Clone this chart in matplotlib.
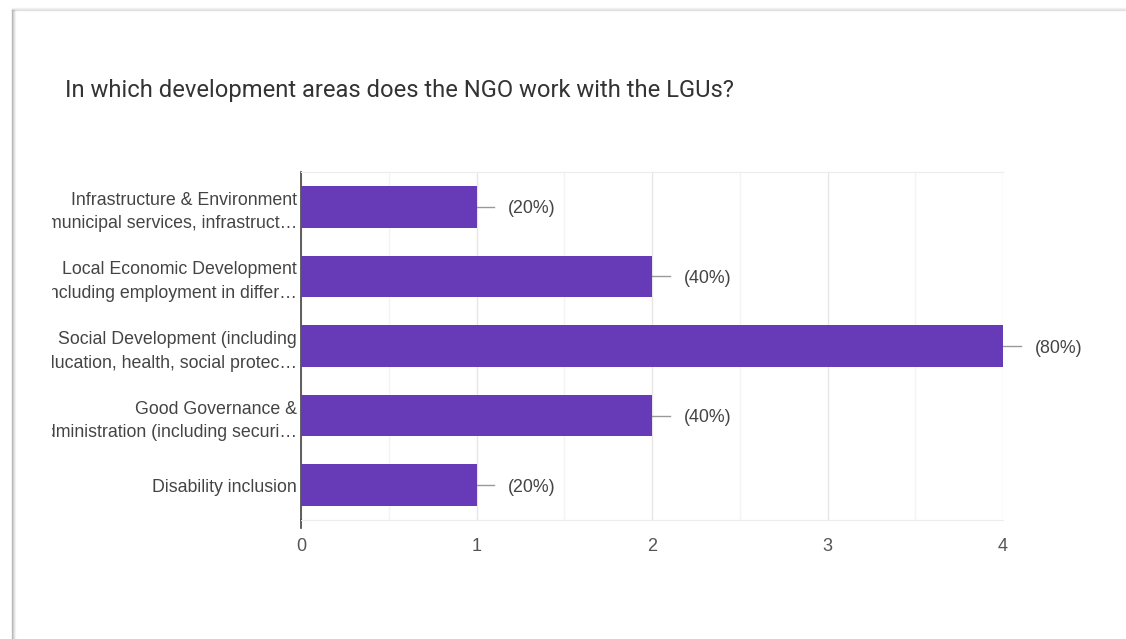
import matplotlib.pyplot as plt
from matplotlib.lines import Line2D
from matplotlib.patches import Rectangle

# data
categories = [
    "Infrastructure & Environment\n(municipal services, infrastruct\u2026",
    "Local Economic Development\n(including employment in differ\u2026",
    "Social Development (including\neducation, health, social protec\u2026",
    "Good Governance &\nAdministration (including securi\u2026",
    "Disability inclusion",
]
counts = [1, 2, 4, 2, 1]
percent_labels = ["(20%)", "(40%)", "(80%)", "(40%)", "(20%)"]
x_ticks = [0, 1, 2, 3, 4]

W, H = 1126, 639
fig = plt.figure(figsize=(W / 100, H / 100), dpi=100)
fig.patch.set_facecolor("white")

ax = fig.add_axes([301 / W, 1 - 520 / H, 702 / W, 348 / H])
ypos = list(range(len(categories)))
ax.barh(ypos, counts, height=0.6, color="#673ab7", zorder=3)

ax.set_xlim(0, 4)
ax.set_ylim(4.5, -0.5)
ax.set_xticks(x_ticks)
ax.set_xticks([0.5, 1.5, 2.5, 3.5], minor=True)
ax.grid(axis="x", which="major", color="#e6e6e6", lw=1, zorder=0)
ax.grid(axis="x", which="minor", color="#f3f3f3", lw=1, zorder=0)
ax.set_axisbelow(True)

ax.set_yticks(ypos)
ax.set_yticklabels(categories, fontsize=12.8, color="#444444",
                   family=["Liberation Sans", "DejaVu Sans"],
                   linespacing=1.5, multialignment="right")
ax.tick_params(axis="y", length=0, pad=3)
ax.tick_params(axis="x", which="both", length=0, pad=13, labelsize=13,
               labelcolor="#555555")
for lbl in ax.get_xticklabels():
    lbl.set_family(["Liberation Sans", "DejaVu Sans"])

for side in ["top", "bottom"]:
    ax.spines[side].set_color("#ececec")
ax.spines["right"].set_visible(False)
ax.spines["left"].set_color("#444444")
ax.spines["left"].set_linewidth(1.2)
ax.plot([0, 0], [4.5, 4.62], color="#444444", lw=1.2, clip_on=False)

# leader lines and percentage labels
for y, v, t in zip(ypos, counts, percent_labels):
    ax.plot([v, v + 0.1], [y, y], color="#999999", lw=1, zorder=2, clip_on=False)
    ax.text(v + 0.18, y + 0.03, t, va="center", ha="left", fontsize=12.8,
            color="#444444", family=["Liberation Sans", "DejaVu Sans"],
            clip_on=False)

# title
fig.text(65 / W, 1 - 90 / H, "In which development areas does the NGO work with the LGUs?",
         fontsize=17.1, color="#333333", va="center", ha="left",
         family=["Roboto", "DejaVu Sans"])

# card edges: cover clipped label text, then shadow lines
fig.add_artist(Rectangle((0, 0), 52 / W, 1, transform=fig.transFigure,
                         facecolor="white", edgecolor="none", zorder=10))
fig.add_artist(Rectangle((0, 1 - 9 / H), 1, 9 / H, transform=fig.transFigure,
                         facecolor="white", edgecolor="none", zorder=10))
for i, a in enumerate([0.55, 0.3, 0.15, 0.07]):
    x = (12 + i) / W
    fig.add_artist(Line2D([x, x], [0, 1 - 10 / H], transform=fig.transFigure,
                          color="#888888", alpha=a, lw=1, zorder=11))
    y = 1 - (10 - i * 0.8) / H
    fig.add_artist(Line2D([12 / W, 1], [y, y], transform=fig.transFigure,
                          color="#aaaaaa", alpha=a * 0.6, lw=1, zorder=11))

fig.savefig("out.png", dpi=100)
